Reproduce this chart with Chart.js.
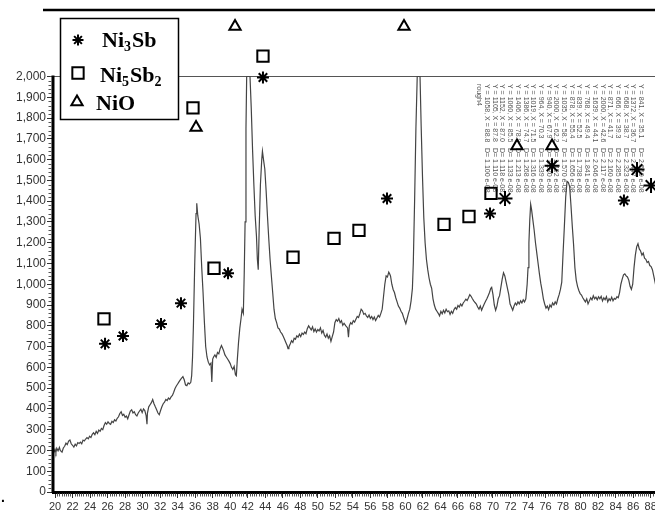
<!DOCTYPE html>
<html><head><meta charset="utf-8">
<style>html,body{margin:0;padding:0;overflow:hidden;background:#fff;width:655px;height:518px}canvas{display:block}</style>
<script src="https://cdn.jsdelivr.net/npm/chart.js@4.4.1/dist/chart.umd.min.js"></script>
</head><body><canvas id="c" width="700" height="518"></canvas>
<script>
// ---- data (2θ in degrees, intensity in counts) ----
const spectrum = [[19.8,184],[20.0,205],[20.1,190],[20.2,210],[20.35,198],[20.5,215],[20.6,200],[20.8,192],[20.95,212],[21.1,220],[21.25,235],[21.4,228],[21.55,245],[21.7,250],[21.85,232],[22.0,225],[22.15,216],[22.3,230],[22.45,222],[22.6,238],[22.75,234],[22.9,240],[23.05,232],[23.2,250],[23.35,246],[23.5,255],[23.65,262],[23.8,256],[23.95,268],[24.1,262],[24.25,278],[24.4,285],[24.55,276],[24.7,292],[24.85,282],[25.0,298],[25.15,292],[25.3,306],[25.45,300],[25.6,320],[25.75,334],[25.9,326],[26.05,338],[26.2,330],[26.35,326],[26.5,340],[26.65,334],[26.8,348],[26.95,342],[27.1,355],[27.25,362],[27.4,378],[27.55,386],[27.7,368],[27.85,374],[28.0,360],[28.15,366],[28.3,352],[28.45,372],[28.6,390],[28.75,396],[28.9,380],[29.05,386],[29.2,372],[29.35,366],[29.5,380],[29.65,390],[29.8,398],[29.95,382],[30.1,400],[30.25,392],[30.4,368],[30.5,326],[30.55,380],[30.7,410],[30.85,420],[31.0,430],[31.15,445],[31.3,425],[31.45,410],[31.6,396],[31.75,380],[31.9,372],[32.05,392],[32.2,410],[32.35,425],[32.5,432],[32.65,445],[32.8,440],[32.95,452],[33.1,446],[33.25,458],[33.4,465],[33.55,480],[33.7,498],[33.85,510],[34.0,520],[34.15,530],[34.3,540],[34.45,548],[34.6,555],[34.75,540],[34.9,515],[35.05,512],[35.2,525],[35.35,520],[35.5,528],[35.6,560],[35.7,650],[35.8,800],[35.95,1100],[36.1,1340],[36.18,1390],[36.3,1330],[36.45,1290],[36.6,1220],[36.75,1080],[36.9,960],[37.05,820],[37.2,700],[37.35,650],[37.5,625],[37.65,612],[37.8,620],[37.9,530],[38.0,640],[38.1,650],[38.25,660],[38.4,648],[38.55,672],[38.7,665],[38.85,690],[39.0,705],[39.1,695],[39.25,680],[39.4,660],[39.55,650],[39.7,640],[39.85,630],[40.0,618],[40.15,600],[40.3,590],[40.45,605],[40.6,565],[40.7,560],[40.8,630],[40.95,720],[41.1,790],[41.25,840],[41.35,880],[41.5,860],[41.6,1050],[41.7,1300],[41.8,1750],[41.88,2000],[42.26,2000],[42.4,1850],[42.55,1650],[42.7,1480],[42.85,1330],[43.0,1230],[43.1,1120],[43.2,1070],[43.3,1250],[43.45,1480],[43.6,1600],[43.68,1640],[43.8,1600],[43.95,1555],[44.1,1450],[44.25,1330],[44.4,1220],[44.55,1120],[44.7,1040],[44.85,960],[45.0,880],[45.15,835],[45.3,815],[45.45,790],[45.6,785],[45.75,770],[45.9,762],[46.05,750],[46.2,735],[46.35,720],[46.5,705],[46.6,690],[46.7,698],[46.85,712],[47.0,728],[47.15,720],[47.3,740],[47.45,735],[47.6,752],[47.75,745],[47.9,760],[48.05,748],[48.2,765],[48.35,758],[48.5,770],[48.65,762],[48.8,786],[48.95,800],[49.1,790],[49.25,780],[49.4,795],[49.55,772],[49.7,785],[49.85,770],[50.0,782],[50.15,775],[50.3,790],[50.45,765],[50.6,778],[50.75,755],[50.9,745],[51.05,760],[51.2,740],[51.35,752],[51.5,725],[51.65,748],[51.8,770],[51.95,815],[52.1,830],[52.25,822],[52.4,835],[52.55,815],[52.7,825],[52.85,802],[53.0,812],[53.2,800],[53.4,790],[53.5,745],[53.6,800],[53.75,815],[53.9,808],[54.05,825],[54.2,818],[54.35,832],[54.5,845],[54.65,840],[54.8,858],[54.95,880],[55.1,872],[55.25,855],[55.4,860],[55.55,848],[55.7,840],[55.85,852],[56.0,835],[56.15,845],[56.3,830],[56.45,842],[56.6,825],[56.75,838],[56.9,850],[57.05,842],[57.2,860],[57.35,880],[57.5,940],[57.65,1000],[57.8,1040],[57.95,1035],[58.1,1058],[58.2,1050],[58.3,1040],[58.45,1000],[58.6,975],[58.75,960],[58.9,935],[59.05,915],[59.2,895],[59.35,885],[59.5,870],[59.65,860],[59.8,840],[59.95,822],[60.05,810],[60.2,835],[60.35,860],[60.5,880],[60.65,920],[60.8,980],[60.9,1100],[61.05,1400],[61.2,1750],[61.35,2000],[61.67,2000],[61.8,1760],[61.95,1520],[62.1,1320],[62.25,1200],[62.4,1120],[62.55,1070],[62.7,1030],[62.85,1000],[63.0,980],[63.15,930],[63.3,900],[63.45,880],[63.6,870],[63.75,860],[63.9,848],[64.05,870],[64.2,858],[64.35,875],[64.5,862],[64.65,880],[64.8,868],[64.95,872],[65.1,855],[65.25,870],[65.4,860],[65.55,878],[65.7,888],[65.85,880],[66.0,898],[66.15,890],[66.3,905],[66.45,895],[66.6,910],[66.75,918],[66.9,928],[67.05,922],[67.2,935],[67.35,950],[67.5,942],[67.65,930],[67.8,920],[67.95,912],[68.1,905],[68.25,890],[68.4,880],[68.55,895],[68.7,875],[68.85,890],[69.0,905],[69.15,918],[69.3,930],[69.45,945],[69.6,960],[69.75,980],[69.85,985],[70.0,950],[70.15,900],[70.3,875],[70.45,895],[70.6,930],[70.75,945],[70.9,985],[71.05,1025],[71.2,1055],[71.35,1040],[71.5,1010],[71.65,980],[71.8,950],[71.95,905],[72.1,890],[72.25,875],[72.4,895],[72.55,910],[72.7,900],[72.85,915],[73.0,905],[73.15,920],[73.3,910],[73.45,925],[73.6,915],[73.75,930],[73.9,1000],[74.0,1080],[74.1,1200],[74.2,1310],[74.3,1385],[74.4,1360],[74.55,1310],[74.7,1260],[74.85,1200],[75.0,1150],[75.15,1100],[75.3,1050],[75.45,1005],[75.6,970],[75.75,930],[75.9,905],[76.05,885],[76.2,895],[76.35,878],[76.5,900],[76.65,890],[76.8,910],[76.95,900],[77.1,915],[77.25,905],[77.4,930],[77.55,950],[77.7,975],[77.85,1010],[78.0,1150],[78.15,1280],[78.3,1420],[78.45,1495],[78.6,1490],[78.75,1470],[78.9,1380],[79.05,1280],[79.2,1190],[79.35,1080],[79.5,1020],[79.65,990],[79.8,970],[79.95,955],[80.1,948],[80.25,935],[80.4,925],[80.55,915],[80.7,930],[80.85,905],[81.0,920],[81.15,935],[81.3,925],[81.45,945],[81.6,930],[81.75,938],[81.9,925],[82.05,940],[82.2,930],[82.35,942],[82.5,920],[82.65,935],[82.8,925],[82.95,940],[83.1,915],[83.25,930],[83.4,922],[83.55,938],[83.7,920],[83.85,932],[84.0,928],[84.15,940],[84.3,935],[84.45,960],[84.6,1000],[84.75,1025],[84.9,1045],[85.05,1050],[85.2,1040],[85.35,1035],[85.5,1020],[85.65,990],[85.8,975],[85.95,1000],[86.1,1080],[86.25,1140],[86.4,1180],[86.55,1195],[86.7,1170],[86.85,1160],[87.0,1140],[87.15,1150],[87.3,1125],[87.45,1120],[87.6,1105],[87.75,1110],[87.9,1090],[88.05,1085],[88.2,1070],[88.35,1040],[88.5,1010],[88.6,990]];

const ni3sbX = [25.71, 27.76, 32.10, 34.38, 39.75, 43.74, 57.90, 69.66, 71.37, 76.74, 84.95, 86.44, 88.04];
const ni3sbY = [713, 751, 809, 909, 1053, 1995, 1413, 1341, 1413, 1570, 1403, 1552, 1475];
const ni5sb2X = [25.59, 35.75, 38.15, 43.74, 47.17, 51.85, 54.70, 64.41, 67.26, 69.77];
const ni5sb2Y = [833, 1849, 1077, 2098, 1130, 1221, 1259, 1288, 1326, 1437];
const nioX = [36.10, 40.55, 59.84, 72.74, 76.74];
const nioY = [1755, 2240, 2240, 1665, 1665];

const legendNames = ['Ni3Sb', 'Ni5Sb2', 'NiO'];
const tableTitle = 'rough4';
const peakTable = [
  ['Y = 841, X = 35.1', 'D= 2.550 e-08'],
  ['Y = 1372, X = 36.7', 'D= 2.447 e-08'],
  ['Y = 668, X = 38.7', 'D= 2.323 e-08'],
  ['Y = 666, X = 39.3', 'D= 2.285 e-08'],
  ['Y = 871, X = 41.7', 'D= 2.160 e-08'],
  ['Y = 2000, X = 42.6', 'D= 2.117 e-08'],
  ['Y = 1639, X = 44.1', 'D= 2.046 e-08'],
  ['Y = 768, X = 49.4', 'D= 1.841 e-08'],
  ['Y = 839, X = 52.5', 'D= 1.738 e-08'],
  ['Y = 878, X = 55.4', 'D= 1.656 e-08'],
  ['Y = 1035, X = 58.7', 'D= 1.570 e-08'],
  ['Y = 2000, X = 62.2', 'D= 1.492 e-08'],
  ['Y = 940, X = 67.9', 'D= 1.380 e-08'],
  ['Y = 964, X = 70.3', 'D= 1.339 e-08'],
  ['Y = 1019, X = 71.5', 'D= 1.316 e-08'],
  ['Y = 1386, X = 74.7', 'D= 1.268 e-08'],
  ['Y = 1406, X = 78.9', 'D= 1.213 e-08'],
  ['Y = 1060, X = 85.5', 'D= 1.133 e-08'],
  ['Y = 1152, X = 87.0', 'D= 1.118 e-08'],
  ['Y = 1105, X = 87.8', 'D= 1.110 e-08'],
  ['Y = 1058, X = 88.8', 'D= 1.100 e-08']
];

// ---- axis ranges ----
const X_MIN = 19.77, X_MAX = 92.49, Y_MAX = 2320, Y_TOP_TICK = 2000;
const X_TICK_FIRST = 20, X_TICK_LAST = 88;

const bigStars = new Set([8, 9, 11, 12]);
const xLabelFont = {family: "'Liberation Sans', Arial, sans-serif", size: 11};
const yLabelFont = {family: "'Liberation Sans', Arial, sans-serif", size: 12};

function toPts(xs, ys) { return xs.map((x, i) => ({x: x, y: ys[i]})); }

function drawMarker(ctx, style, x, y, r) {
  ctx.beginPath();
  if (style === 'star') {
    for (let k = 0; k < 4; k++) {
      const a = k * Math.PI / 4;
      ctx.moveTo(x - Math.sin(a) * r, y - Math.cos(a) * r);
      ctx.lineTo(x + Math.sin(a) * r, y + Math.cos(a) * r);
    }
  } else if (style === 'rect') {
    const s = Math.SQRT1_2 * r;
    ctx.rect(x - s, y - s, 2 * s, 2 * s);
  } else {
    ctx.moveTo(x, y - r);
    ctx.lineTo(x + Math.sin(2 * Math.PI / 3) * r, y + r / 2);
    ctx.lineTo(x - Math.sin(2 * Math.PI / 3) * r, y + r / 2);
    ctx.closePath();
  }
  ctx.stroke();
}

const framePlugin = {
  id: 'frame',
  beforeDatasetsDraw(chart) {
    const ctx = chart.ctx, a = chart.chartArea;
    const ys = chart.scales.y;
    ctx.save();
    // peak table (rotated text)
    ctx.fillStyle = '#555';
    ctx.font = "7px 'Liberation Sans', Arial, sans-serif";
    ctx.textBaseline = 'middle';
    const colX = (i) => 641 - i * 7.7;
    peakTable.forEach((row, i) => {
      ctx.save(); ctx.translate(colX(i), 84); ctx.rotate(Math.PI / 2);
      ctx.fillText(row[0], 0, 0); ctx.fillText(row[1], 64, 0);
      ctx.restore();
    });
    ctx.save(); ctx.translate(colX(peakTable.length), 84); ctx.rotate(Math.PI / 2);
    ctx.fillText(tableTitle, 0, 0); ctx.restore();
    // line at 2000
    const y2k = Math.round(ys.getPixelForValue(Y_TOP_TICK)) + 0.5;
    ctx.strokeStyle = '#555'; ctx.lineWidth = 1;
    ctx.beginPath(); ctx.moveTo(a.left - 3, y2k); ctx.lineTo(chart.width, y2k); ctx.stroke();
    ctx.restore();
  },
  afterDatasetsDraw(chart) {
    const ctx = chart.ctx, a = chart.chartArea;
    const xs = chart.scales.x, ys = chart.scales.y;
    ctx.save();
    // top rule
    ctx.strokeStyle = '#000'; ctx.lineWidth = 2.5;
    ctx.beginPath(); ctx.moveTo(43, a.top); ctx.lineTo(chart.width, a.top); ctx.stroke();
    // left axis from 0 to 2000
    const y2k = ys.getPixelForValue(Y_TOP_TICK), y0 = ys.getPixelForValue(0);
    ctx.lineWidth = 3;
    ctx.beginPath(); ctx.moveTo(a.left, y2k - 1); ctx.lineTo(a.left, y0 + 1); ctx.stroke();
    // minor ticks
    ctx.strokeStyle = '#555'; ctx.lineWidth = 1;
    ctx.beginPath();
    for (let v = 20; v < Y_TOP_TICK; v += 20) {
      if (v % 100 === 0) continue;
      const py = Math.round(ys.getPixelForValue(v)) + 0.5;
      ctx.moveTo(a.left - 4.5, py); ctx.lineTo(a.left - 1.5, py);
    }
    for (let v = X_TICK_FIRST; v <= X_MAX; v += 0.25) {
      if (Math.abs(v % 2) < 1e-6) continue;
      const px = Math.round(xs.getPixelForValue(v)) + 0.5;
      ctx.moveTo(px, a.bottom + 1.5); ctx.lineTo(px, a.bottom + 4.5);
    }
    ctx.stroke();
    ctx.restore();
  },
  afterDraw(chart) {
    const ctx = chart.ctx;
    ctx.save();
    // legend box
    ctx.fillStyle = '#fff'; ctx.strokeStyle = '#000'; ctx.lineWidth = 1.5;
    ctx.fillRect(60, 18, 119, 102); ctx.strokeRect(60.5, 18.5, 118, 101);
    ctx.lineWidth = 2;
    drawMarker(ctx, 'star', 78, 40, 5.5);
    drawMarker(ctx, 'rect', 78, 73, 8);
    drawMarker(ctx, 'triangle', 77, 102, 6.5);
    const rows = [[102, 47], [100, 82], [96, 110]];
    ctx.fillStyle = '#000'; ctx.textBaseline = 'alphabetic';
    legendNames.forEach((name, i) => {
      let [x, y] = rows[i];
      name.split(/(\d+)/).filter(s => s).forEach(part => {
        const sub = /^\d+$/.test(part);
        ctx.font = sub ? "bold 14px 'Liberation Serif', 'Times New Roman', serif" : "bold 22px 'Liberation Serif', 'Times New Roman', serif";
        ctx.fillText(part, x, sub ? y + 4 : y);
        x += ctx.measureText(part).width + (sub ? 1 : 0);
      });
    });
    // stray dot at left of the x-axis
    ctx.font = "bold 14px 'Liberation Sans', Arial, sans-serif";
    ctx.fillText('.', 1, 502);
    ctx.restore();
  }
};

new Chart(document.getElementById('c'), {
  type: 'scatter',
  data: {
    datasets: [
      {label: 'Ni3Sb', data: toPts(ni3sbX, ni3sbY), showLine: false, pointStyle: 'star',
       pointRadius: (c) => bigStars.has(c.dataIndex) ? 7.5 : 6, pointBorderWidth: 2,
       pointBorderColor: '#000', pointBackgroundColor: '#000'},
      {label: 'Ni5Sb2', data: toPts(ni5sb2X, ni5sb2Y), showLine: false, pointStyle: 'rect',
       pointRadius: 8, pointBorderWidth: 2, pointBorderColor: '#000', pointBackgroundColor: 'rgba(0,0,0,0)'},
      {label: 'NiO', data: toPts(nioX, nioY), showLine: false, pointStyle: 'triangle',
       pointRadius: 6.5, pointBorderWidth: 2, pointBorderColor: '#000', pointBackgroundColor: 'rgba(0,0,0,0)'},
      {label: 'XRD', data: spectrum.map(p => ({x: p[0], y: p[1]})), showLine: true,
       borderColor: '#444', borderWidth: 1.2, pointRadius: 0, tension: 0, fill: false}
    ]
  },
  options: {
    responsive: false, animation: false, devicePixelRatio: 1,
    layout: {padding: {top: 8, right: 10, left: 0, bottom: 0}},
    plugins: {legend: {display: false}, tooltip: {enabled: false}},
    scales: {
      x: {
        type: 'linear', min: X_MIN, max: X_MAX,
        afterFit(s) { s.height = 26; },
        afterBuildTicks(s) { s.ticks = s.ticks.filter(t => t.value >= X_TICK_FIRST && t.value <= X_TICK_LAST); },
        ticks: {stepSize: 2, includeBounds: false, autoSkip: false, maxRotation: 0, padding: 2, color: '#333', font: xLabelFont},
        grid: {drawOnChartArea: false, tickLength: 6, color: '#333', tickWidth: 1},
        border: {display: true, color: '#000', width: 3}
      },
      y: {
        type: 'linear', min: 0, max: Y_MAX,
        afterFit(s) { s.width = 53; },
        afterBuildTicks(s) { s.ticks = s.ticks.filter(t => t.value <= Y_TOP_TICK); },
        ticks: {stepSize: 100, includeBounds: false, autoSkip: false, padding: 1, color: '#333', font: yLabelFont,
                callback: (v) => v.toLocaleString('en-US')},
        grid: {drawOnChartArea: false, tickLength: 6, color: '#333', tickWidth: 1},
        border: {display: false}
      }
    }
  },
  plugins: [framePlugin]
});
</script>
</body></html>
